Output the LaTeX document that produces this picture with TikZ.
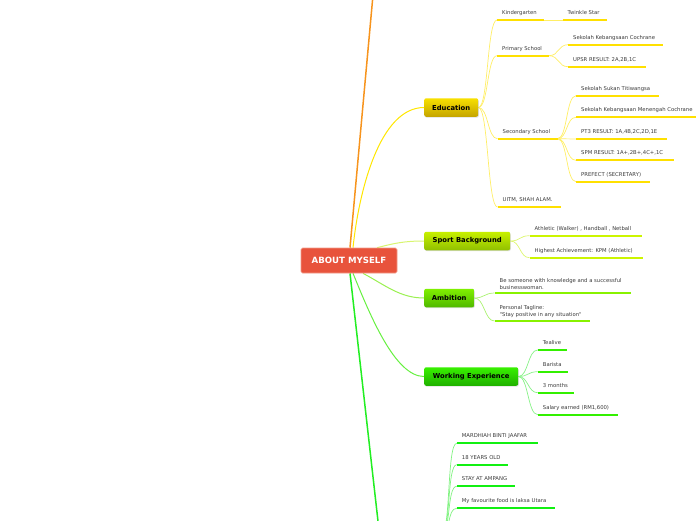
\documentclass[tikz,border=0pt]{standalone}
\usepackage{fontspec}
\newfontfamily\lf{DejaVu Sans}
\usetikzlibrary{shadows,backgrounds}
\definecolor{cred}{HTML}{E8533C}
\definecolor{credb}{HTML}{F29A88}
\definecolor{edA}{HTML}{F8E000}
\definecolor{edB}{HTML}{C4A400}
\definecolor{spA}{HTML}{C8F000}
\definecolor{spB}{HTML}{90C000}
\definecolor{amA}{HTML}{80F000}
\definecolor{amB}{HTML}{50B800}
\definecolor{wkA}{HTML}{38F000}
\definecolor{wkB}{HTML}{20B000}
\definecolor{edul}{HTML}{FFE000}
\definecolor{spul}{HTML}{CCF500}
\definecolor{amul}{HTML}{88F200}
\definecolor{wkul}{HTML}{33F000}
\definecolor{btul}{HTML}{11F011}
\definecolor{edln}{HTML}{FFEE66}
\definecolor{spln}{HTML}{DDF670}
\definecolor{amln}{HTML}{AAF270}
\definecolor{wkln}{HTML}{88F288}
\definecolor{btln}{HTML}{80F280}
\definecolor{orangeln}{HTML}{F7941D}
\definecolor{edmain}{HTML}{FFE600}
\definecolor{spmain}{HTML}{D8F570}
\definecolor{ammain}{HTML}{9AF050}
\definecolor{wkmain}{HTML}{66F040}
\definecolor{btmain}{HTML}{22EE22}
\definecolor{leaftext}{HTML}{3A3A3A}
\tikzset{
  rootbox/.style={fill=cred, draw=credb, line width=0.6pt, rounded corners=1.5pt,
    minimum width=96pt, minimum height=25pt, inner sep=0pt, text=white,
    font=\lf\bfseries\fontsize{8.6}{10}\selectfont},
  mainbox/.style 2 args={anchor=west, top color=#1, bottom color=#2, draw=none,
    rounded corners=2pt, minimum height=18.5pt, inner xsep=0pt, inner ysep=0pt,
    font=\lf\bfseries\fontsize{6.8}{8}\selectfont, text=black,
    drop shadow={shadow xshift=0.6pt, shadow yshift=-0.9pt, opacity=0.25}},
  leaf/.style={anchor=south west, inner xsep=5pt, inner ysep=3.4pt,
    text height=3.9pt, text depth=1.8pt,
    font=\lf\fontsize{5.3}{6}\selectfont, text=leaftext},
  leafm/.style={anchor=south west, inner xsep=5pt, inner ysep=3pt, align=left,
    font=\lf\fontsize{5.3}{7}\selectfont, text=leaftext},
  ulline/.style={line width=1.8pt, draw=#1},
  brline/.style={line width=0.7pt, draw=#1},
  mainline/.style={line width=1pt, draw=#1},
}
% leaf node with underline: name, x, y, underline length, colour, text
\newcommand\mmleaf[6]{%
  \node[leaf] (#1) at (#2,#3) {#6};
  \draw[ulline=#5] (#1.south west) -- ++(#4,0) coordinate (#1e);}
\newcommand\mmleafm[6]{%
  \node[leafm] (#1) at (#2,#3) {#6};
  \draw[ulline=#5] (#1.south west) -- ++(#4,0) coordinate (#1e);}
\begin{document}
\begin{tikzpicture}[x=1pt,y=1pt]
\useasboundingbox (0,0) rectangle (696,-520);
\clip (0,0) rectangle (696,-520);

% root and main topics
\node[rootbox] (c) at (349,-260.5) {ABOUT MYSELF};
\node[mainbox={edA}{edB}, minimum width=54pt] (edu) at (424,-107.5) {Education};
\node[mainbox={spA}{spB}, minimum width=86pt] (sp) at (424,-241) {Sport Background};
\node[mainbox={amA}{amB}, minimum width=50pt] (am) at (424,-298) {Ambition};
\node[mainbox={wkA}{wkB}, minimum width=94pt] (wk) at (424,-376.5) {Working Experience};
\coordinate (top) at (373,5);
\coordinate (bottom) at (379,-530);
\coordinate (bt) at (441,-535);

% education leaves
\mmleaf{kg}{497}{-20}{47}{edul}{Kindergarten}
\mmleaf{ts}{562.5}{-20}{44}{edul}{Twinkle Star}
\mmleaf{ps}{497}{-55.7}{52}{edul}{Primary School}
\mmleaf{skc}{568}{-44.7}{95}{edul}{Sekolah Kebangsaan Cochrane}
\mmleaf{upsr}{568}{-66.7}{78}{edul}{UPSR RESULT: 2A,2B,1C}
\mmleaf{ss}{497.5}{-138.7}{60}{edul}{Secondary School}
\mmleaf{sst}{576}{-95.7}{83}{edul}{Sekolah Sukan Titiwangsa}
\mmleaf{skmc}{576}{-117.3}{135}{edul}{Sekolah Kebangsaan Menengah Cochrane}
\mmleaf{pt3}{576}{-139}{91}{edul}{PT3 RESULT: 1A,4B,2C,2D,1E}
\mmleaf{spm}{576}{-160.3}{98}{edul}{SPM RESULT: 1A+,2B+,4C+,1C}
\mmleaf{pref}{576}{-181.7}{74}{edul}{PREFECT (SECRETARY)}
\mmleaf{uitm}{497.5}{-207}{63}{edul}{UITM, SHAH ALAM.}
% sport
\mmleaf{ath}{529.5}{-235.7}{112}{spul}{Athletic (Walker) , Handball , Netball}
\mmleaf{high}{529.5}{-257.7}{113}{spul}{Highest Achievement: KPM (Athletic)}
% ambition
\mmleafm{be}{494.5}{-293}{136}{amul}{Be someone with knowledge and a successful\\businesswoman.}
\mmleafm{tag}{494.5}{-321}{95}{amul}{Personal Tagline:\\"Stay positive in any situation"}
% working
\mmleaf{tea}{537.7}{-350}{29}{wkul}{Tealive}
\mmleaf{bar}{537.7}{-371.7}{30}{wkul}{Barista}
\mmleaf{mon}{537.7}{-392.7}{36}{wkul}{3 months}
\mmleaf{sal}{537.7}{-414.7}{80}{wkul}{Salary earned (RM1,600)}
% bottom topic leaves
\mmleaf{m1}{456.7}{-443.3}{81}{btul}{MARDHIAH BINTI JAAFAR}
\mmleaf{m2}{456.7}{-464.7}{51}{btul}{18 YEARS OLD}
\mmleaf{m3}{456.7}{-486.3}{58}{btul}{STAY AT AMPANG}
\mmleaf{m4}{456.7}{-508.3}{98}{btul}{My favourite food is laksa Utara}

\begin{scope}[on background layer]
  % main connectors
  \draw[line width=1.5pt, orangeln] ([xshift=1pt]c.north) -- (top);
  \draw[mainline=edmain] ([xshift=4pt]c.north) .. controls (359,-190) and (380,-107.5) .. (edu.west);
  \draw[mainline=spmain] ([xshift=28pt]c.north) .. controls (395,-243) and (405,-241) .. (sp.west);
  \draw[mainline=ammain] ([xshift=14pt]c.south) .. controls (385,-285) and (400,-298) .. (am.west);
  \draw[mainline=wkmain] ([xshift=4pt]c.south) .. controls (370,-315) and (395,-376.5) .. (wk.west);
  \draw[line width=1.5pt, btmain] ([xshift=1pt]c.south) -- (bottom);
  % education branches
  \foreach \n in {kg,ps,ss,uitm}
    \draw[brline=edln] (edu.east) to[out=0,in=180,distance=10pt] (\n.south west);
  \draw[brline=edln] (kge) -- (ts.south west);
  \foreach \n in {skc,upsr}
    \draw[brline=edln] (pse) to[out=0,in=180,distance=10pt] (\n.south west);
  \foreach \n in {sst,skmc,pt3,spm,pref}
    \draw[brline=edln] (sse) to[out=0,in=180,distance=10pt] (\n.south west);
  \foreach \n in {ath,high}
    \draw[brline=spln] (sp.east) to[out=0,in=180,distance=10pt] (\n.south west);
  \foreach \n in {be,tag}
    \draw[brline=amln] (am.east) to[out=0,in=180,distance=10pt] (\n.south west);
  \foreach \n in {tea,bar,mon,sal}
    \draw[brline=wkln] (wk.east) to[out=0,in=180,distance=10pt] (\n.south west);
  \foreach \n in {m1,m2,m3,m4}
    \draw[brline=btln] (bt) to[out=0,in=180,distance=10pt] (\n.south west);
\end{scope}
\end{tikzpicture}
\end{document}
